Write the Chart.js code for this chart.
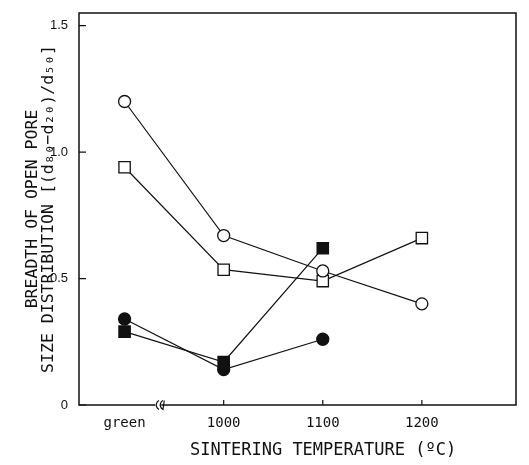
<!DOCTYPE html>
<html>
<head>
<meta charset="utf-8">
<script src="https://cdn.jsdelivr.net/npm/chart.js@4/dist/chart.umd.min.js"></script>
<style>
  html, body { margin: 0; padding: 0; background: #fff; }
  #wrap { width: 529px; height: 465px; }
</style>
</head>
<body>
<div id="wrap"><canvas id="c" width="529" height="465"></canvas></div>
<script>
// sintering temperature (green body plotted at 900)
const temps = [900, 1000, 1100, 1200];
const tickLabels = ["green", "1000", "1100", "1200"];
const yTicks = [0, 0.5, 1.0, 1.5];

const openCircle = [1.20, 0.67, 0.53, 0.40];
const openSquare = [0.94, 0.535, 0.49, 0.66];
const filledCircle = [0.34, 0.14, 0.26, null];
const filledSquare = [0.29, 0.17, 0.62, null];

const ink = "#111";
const mono = "DejaVu Sans Mono";

function pts(vals) {
  return temps.map((t, i) => ({ x: t, y: vals[i] })).filter(p => p.y !== null);
}

function series(label, vals, style, filled) {
  return {
    label: label,
    data: pts(vals),
    borderColor: ink,
    borderWidth: 1.2,
    pointStyle: style,
    pointRadius: style === "rect" ? 8 : 6,
    pointBorderWidth: 1.3,
    pointBorderColor: ink,
    pointBackgroundColor: filled ? ink : "#fff",
    tension: 0
  };
}

// frame, inward ticks and axis break
const frame = {
  id: "frame",
  afterDraw(chart) {
    const { ctx, chartArea: a, scales } = chart;
    ctx.save();
    ctx.strokeStyle = ink;
    ctx.lineWidth = 1.5;
    ctx.strokeRect(a.left, a.top, a.right - a.left, a.bottom - a.top);
    ctx.lineWidth = 1.2;
    ctx.beginPath();
    yTicks.forEach(v => {
      const y = scales.y.getPixelForValue(v);
      ctx.moveTo(a.left, y);
      ctx.lineTo(a.left + 7, y);
    });
    temps.slice(1).forEach(t => {
      const x = scales.x.getPixelForValue(t);
      ctx.moveTo(x, a.bottom);
      ctx.lineTo(x, a.bottom - 5);
    });
    ctx.stroke();
    // break mark on the x axis
    const bx = scales.x.getPixelForValue(935);
    ctx.fillStyle = "#fff";
    ctx.fillRect(bx - 4, a.bottom - 2, 6, 4);
    ctx.beginPath();
    ctx.arc(bx + 2, a.bottom, 5, Math.PI * 0.65, Math.PI * 1.35);
    ctx.moveTo(bx + 5, a.bottom - 4.5);
    ctx.arc(bx + 6, a.bottom, 5, Math.PI * 0.65, Math.PI * 1.35);
    ctx.stroke();
    ctx.restore();
  }
};

new Chart(document.getElementById("c"), {
  type: "line",
  data: {
    datasets: [
      series("open circle", openCircle, "circle", false),
      series("open square", openSquare, "rect", false),
      series("filled circle", filledCircle, "circle", true),
      series("filled square", filledSquare, "rect", true)
    ]
  },
  options: {
    responsive: false,
    animation: false,
    layout: { padding: { top: 13, right: 13, left: 24, bottom: 0 } },
    plugins: { legend: { display: false }, tooltip: { enabled: false } },
    scales: {
      x: {
        type: "linear",
        min: 854,
        max: 1295,
        afterBuildTicks: s => { s.ticks = temps.map(v => ({ value: v })); },
        afterFit: s => { s.height = 60; },
        grid: { display: false },
        border: { display: false },
        ticks: {
          color: ink,
          padding: 2,
          maxRotation: 0,
          font: { family: mono, size: 14 },
          callback: (v) => tickLabels[temps.indexOf(v)]
        },
        title: {
          display: true,
          text: "     SINTERING TEMPERATURE (ºC)",
          color: ink,
          padding: { top: 5 },
          font: { family: mono, size: 17 }
        }
      },
      y: {
        min: 0,
        max: 1.55,
        afterBuildTicks: s => { s.ticks = yTicks.map(v => ({ value: v })); },
        afterFit: s => { s.width = 55; },
        grid: { display: false },
        border: { display: false },
        ticks: {
          color: ink,
          padding: 3,
          font: { family: "Liberation Sans", size: 13 },
          callback: v => v === 0 ? "0" : v.toFixed(1)
        },
        title: {
          display: true,
          text: ["BREADTH OF OPEN PORE", "SIZE DISTRIBUTION [(d₈₀−d₂₀)/d₅₀]"],
          color: ink,
          padding: { top: 0, bottom: 0 },
          font: { family: mono, size: 16.5, lineHeight: 1.0 }
        }
      }
    }
  },
  plugins: [frame]
});
</script>
</body>
</html>
